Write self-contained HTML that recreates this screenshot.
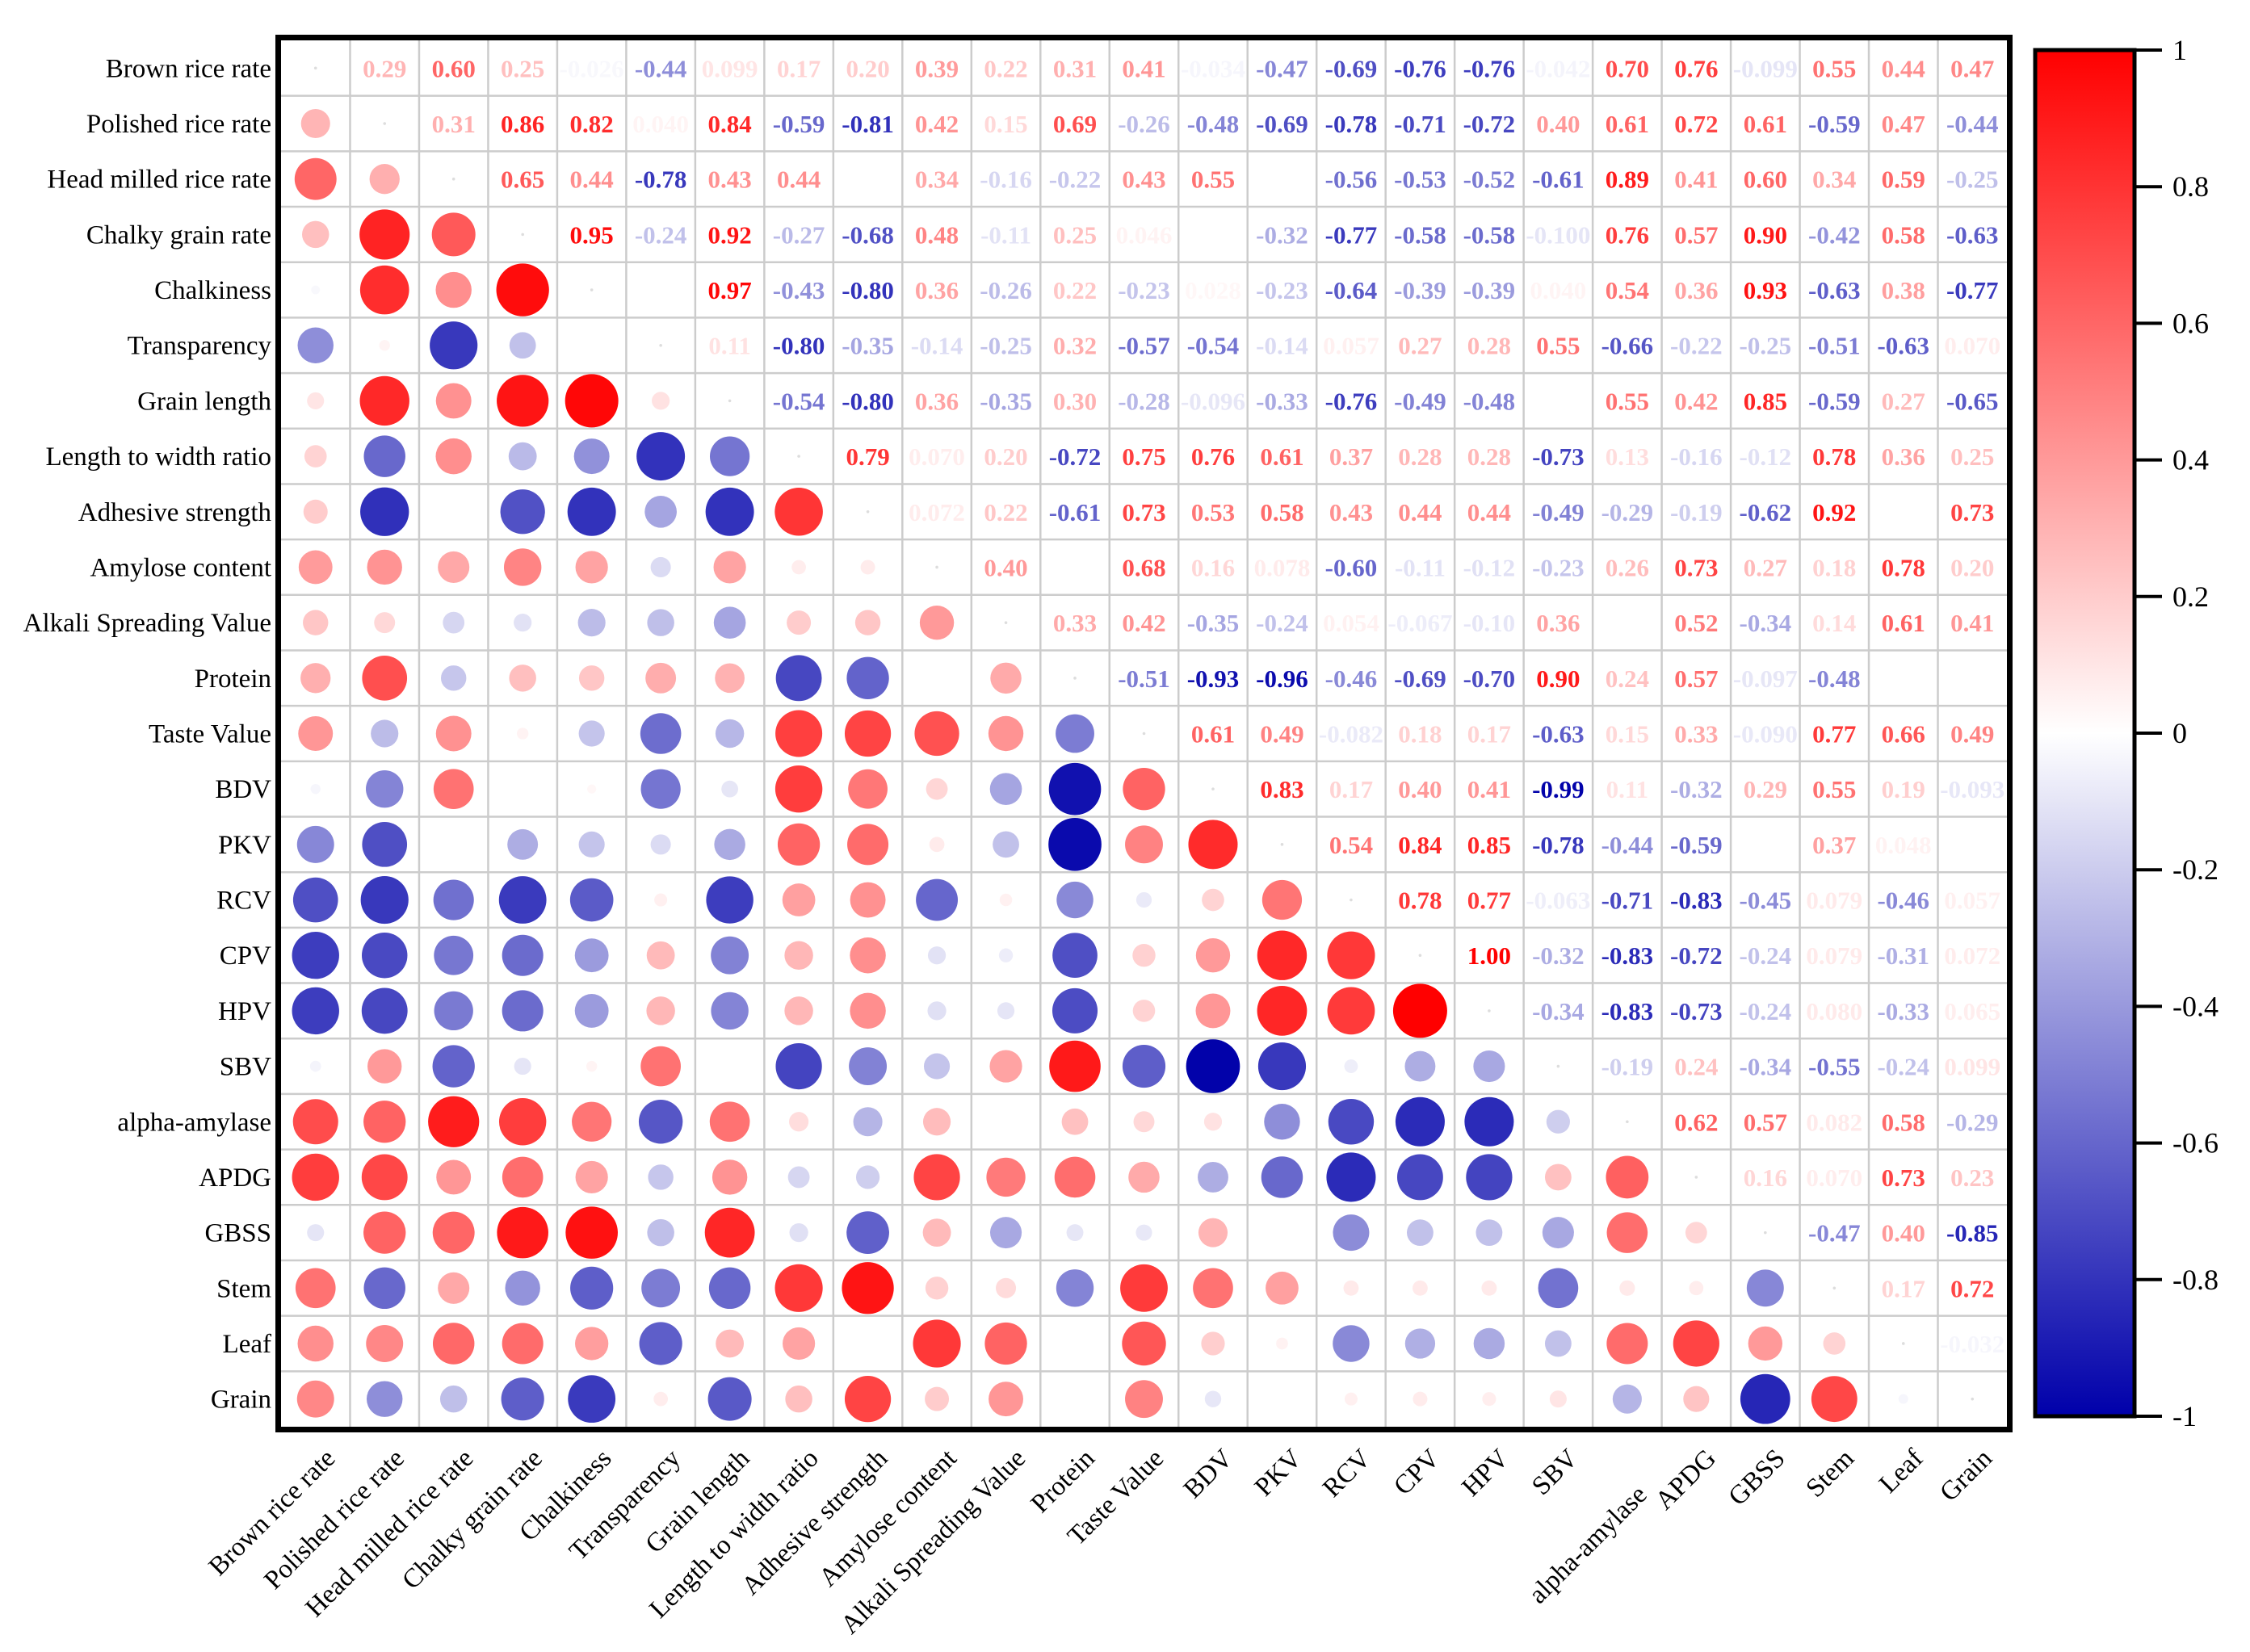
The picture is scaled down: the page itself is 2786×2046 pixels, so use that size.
<!DOCTYPE html>
<html><head><meta charset="utf-8">
<style>
html,body{margin:0;padding:0;background:#fff;}
svg{display:block;}
text{font-family:"Liberation Serif",serif;}
</style></head>
<body>
<svg id="chart" width="2786" height="2046" viewBox="0 0 2786 2046" xmlns="http://www.w3.org/2000/svg">
<defs>
<linearGradient id="cbar" x1="0" y1="0" x2="0" y2="1">
<stop offset="0" stop-color="#ff0000"/>
<stop offset="0.5" stop-color="#ffffff"/>
<stop offset="1" stop-color="#0000aa"/>
</linearGradient>
</defs>
<g id="grid"></g>
<g id="marks"></g>
<rect x="344.5" y="46.5" width="2144" height="1724" fill="none" stroke="#000" stroke-width="7"/>
<g id="ylabels"></g>
<g id="xlabels"></g>
<rect x="2520" y="62" width="123" height="1692" fill="url(#cbar)" stroke="#000" stroke-width="5"/>
<g id="cticks"></g>
</svg>
<script>
const variables = ["Brown rice rate","Polished rice rate","Head milled rice rate","Chalky grain rate","Chalkiness","Transparency","Grain length","Length to width ratio","Adhesive strength","Amylose content","Alkali Spreading Value","Protein","Taste Value","BDV","PKV","RCV","CPV","HPV","SBV","alpha-amylase","APDG","GBSS","Stem","Leaf","Grain"];
// upper triangle values, row i lists columns i+1..24 ("" = blank)
const upper0 = ["0.29","0.60","0.25","-0.026","-0.44","0.099","0.17","0.20","0.39","0.22","0.31","0.41","-0.034","-0.47","-0.69","-0.76","-0.76","-0.042","0.70","0.76","-0.099","0.55","0.44","0.47"];
const upper1 = ["0.31","0.86","0.82","0.040","0.84","-0.59","-0.81","0.42","0.15","0.69","-0.26","-0.48","-0.69","-0.78","-0.71","-0.72","0.40","0.61","0.72","0.61","-0.59","0.47","-0.44"];
const upper2 = ["0.65","0.44","-0.78","0.43","0.44","","0.34","-0.16","-0.22","0.43","0.55","","-0.56","-0.53","-0.52","-0.61","0.89","0.41","0.60","0.34","0.59","-0.25"];
const upper3 = ["0.95","-0.24","0.92","-0.27","-0.68","0.48","-0.11","0.25","0.046","","-0.32","-0.77","-0.58","-0.58","-0.100","0.76","0.57","0.90","-0.42","0.58","-0.63"];
const upper4 = ["","0.97","-0.43","-0.80","0.36","-0.26","0.22","-0.23","0.028","-0.23","-0.64","-0.39","-0.39","0.040","0.54","0.36","0.93","-0.63","0.38","-0.77"];
const upper5 = ["0.11","-0.80","-0.35","-0.14","-0.25","0.32","-0.57","-0.54","-0.14","0.057","0.27","0.28","0.55","-0.66","-0.22","-0.25","-0.51","-0.63","0.070"];
const upper6 = ["-0.54","-0.80","0.36","-0.35","0.30","-0.28","-0.096","-0.33","-0.76","-0.49","-0.48","","0.55","0.42","0.85","-0.59","0.27","-0.65"];
const upper7 = ["0.79","0.070","0.20","-0.72","0.75","0.76","0.61","0.37","0.28","0.28","-0.73","0.13","-0.16","-0.12","0.78","0.36","0.25"];
const upper8 = ["0.072","0.22","-0.61","0.73","0.53","0.58","0.43","0.44","0.44","-0.49","-0.29","-0.19","-0.62","0.92","","0.73"];
const upper9 = ["0.40","","0.68","0.16","0.078","-0.60","-0.11","-0.12","-0.23","0.26","0.73","0.27","0.18","0.78","0.20"];
const upper10 = ["0.33","0.42","-0.35","-0.24","0.054","-0.067","-0.10","0.36","","0.52","-0.34","0.14","0.61","0.41"];
const upper11 = ["-0.51","-0.93","-0.96","-0.46","-0.69","-0.70","0.90","0.24","0.57","-0.097","-0.48","",""];
const upper12 = ["0.61","0.49","-0.082","0.18","0.17","-0.63","0.15","0.33","-0.090","0.77","0.66","0.49"];
const upper13 = ["0.83","0.17","0.40","0.41","-0.99","0.11","-0.32","0.29","0.55","0.19","-0.093"];
const upper14 = ["0.54","0.84","0.85","-0.78","-0.44","-0.59","","0.37","0.048",""];
const upper15 = ["0.78","0.77","-0.063","-0.71","-0.83","-0.45","0.079","-0.46","0.057"];
const upper16 = ["1.00","-0.32","-0.83","-0.72","-0.24","0.079","-0.31","0.072"];
const upper17 = ["-0.34","-0.83","-0.73","-0.24","0.080","-0.33","0.065"];
const upper18 = ["-0.19","0.24","-0.34","-0.55","-0.24","0.099"];
const upper19 = ["0.62","0.57","0.082","0.58","-0.29"];
const upper20 = ["0.16","0.070","0.73","0.23"];
const upper21 = ["-0.47","0.40","-0.85"];
const upper22 = ["0.17","0.72"];
const upper23 = ["-0.032"];
const colorTicks = [1,0.8,0.6,0.4,0.2,0,-0.2,-0.4,-0.6,-0.8,-1];
const colorTickLabels = ["1","0.8","0.6","0.4","0.2","0","-0.2","-0.4","-0.6","-0.8","-1"];

const uppers=[upper0,upper1,upper2,upper3,upper4,upper5,upper6,upper7,upper8,upper9,upper10,upper11,upper12,upper13,upper14,upper15,upper16,upper17,upper18,upper19,upper20,upper21,upper22,upper23];
const N=variables.length;
const X0=348,X1=2485,Y0=50,Y1=1767;
const cw=(X1-X0)/N, ch=(Y1-Y0)/N;
const xc=j=>X0+cw*(j+0.5);
const yc=i=>Y0+ch*(i+0.5);
const cbY=v=>62+(1-v)/2*1692;
const NS="http://www.w3.org/2000/svg";
function mk(tag,attrs,parent){const e=document.createElementNS(NS,tag);for(const k in attrs)e.setAttribute(k,attrs[k]);parent.appendChild(e);return e;}
function col(v){
  const t=Math.min(1,Math.abs(v));
  let r,g,b;
  if(v>=0){r=255;g=255*(1-t);b=255*(1-t);}
  else{r=255*(1-t);g=255*(1-t);b=255-85*t;}
  return `rgb(${r|0},${g|0},${b|0})`;
}
const M=[];
for(let i=0;i<N;i++){M.push(new Array(N).fill(""));M[i][i]="1";}
for(let i=0;i<N-1;i++){uppers[i].forEach((s,k)=>{const j=i+1+k;M[i][j]=s;M[j][i]=s;});}

const grid=document.getElementById('grid');
for(let k=1;k<N;k++){
  const gv=mk('line',{x1:X0+cw*k,x2:X0+cw*k,y1:Y0,y2:Y1,stroke:'#cccccc','stroke-width':2.5},grid);
  
  
  const gh=mk('line',{x1:X0,x2:X1,y1:Y0+ch*k,y2:Y0+ch*k,stroke:'#cccccc','stroke-width':2.5},grid);
  
  
}
const marks=document.getElementById('marks');
for(let i=0;i<N;i++){
  for(let j=0;j<N;j++){
    const s=M[i][j];
    if(i===j){
      const d=mk('circle',{cx:xc(j),cy:yc(i),r:1.8,fill:'#dddddd'},marks);
      
      
      continue;
    }
    if(s==="")continue;
    const v=parseFloat(s);
    if(i>j){
      const r=Math.max(1.5,33.5*Math.sqrt(Math.abs(v)));
      const c=mk('circle',{cx:xc(j),cy:yc(i),r:r,fill:col(v)},marks);
      
      
    } else {
      const t=mk('text',{x:xc(j),y:yc(i)+11,'text-anchor':'middle','font-size':31,'font-weight':'bold',fill:col(v)},marks);
      t.textContent=s;
      
      
    }
  }
}
const yl=document.getElementById('ylabels');
const xl=document.getElementById('xlabels');
variables.forEach((name,i)=>{
  const t=mk('text',{x:336,y:yc(i)+11,'text-anchor':'end','font-size':33,fill:'#000'},yl);
  t.textContent=name;
  
  
  const dy=(name==="alpha-amylase")?45:0;
  const ax=xc(i)+26, ay=1808+dy;
  const u=mk('text',{x:ax,y:ay,'text-anchor':'end','font-size':33,fill:'#000',transform:`rotate(-45 ${ax} ${ay})`},xl);
  u.textContent=name;
  
  
});
const ct=document.getElementById('cticks');
colorTicks.forEach((v,k)=>{
  const y=cbY(v);
  const l=mk('line',{x1:2643,x2:2677,y1:y,y2:y,stroke:'#000','stroke-width':4},ct);
  
  
  const t=mk('text',{x:2690,y:y+12,'font-size':36,fill:'#000'},ct);
  t.textContent=colorTickLabels[k];
  
  
});
</script>
</body></html>
